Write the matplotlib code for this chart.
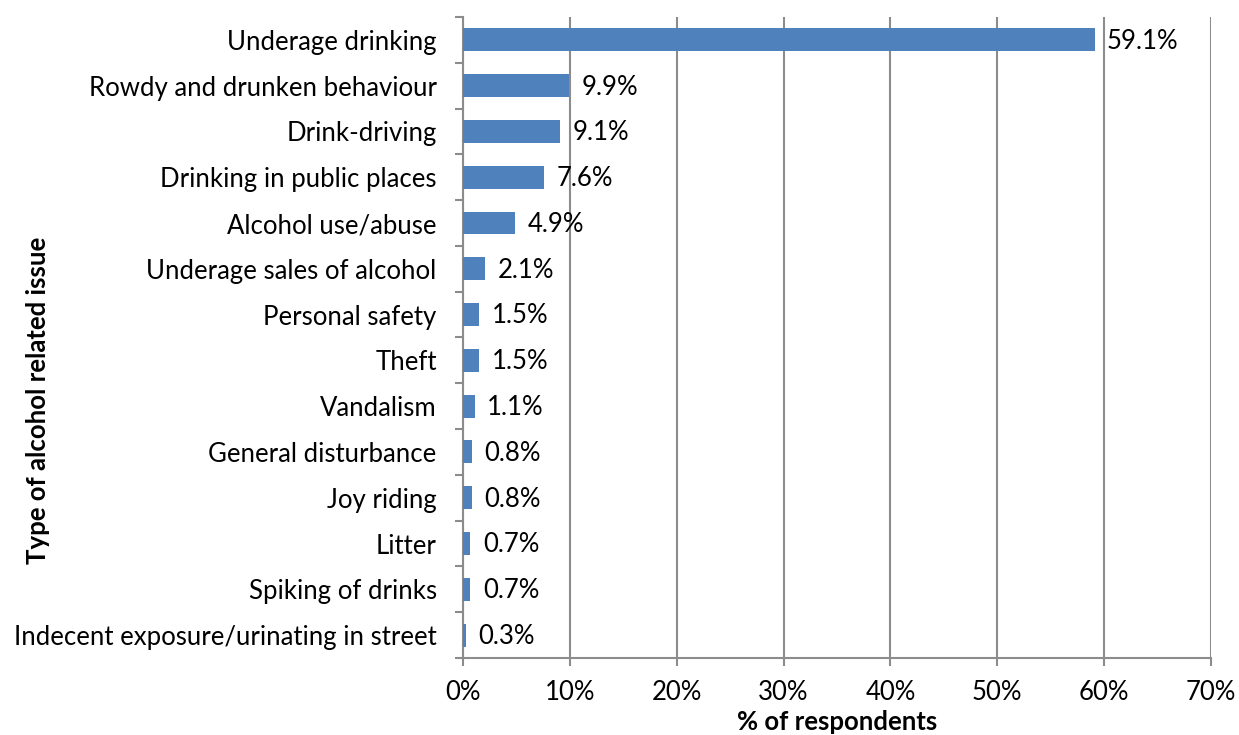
import numpy as np
import matplotlib
matplotlib.use("Agg")
import matplotlib.pyplot as plt
from matplotlib.ticker import FixedLocator

categories = [
    "Underage drinking",
    "Rowdy and drunken behaviour",
    "Drink-driving",
    "Drinking in public places",
    "Alcohol use/abuse",
    "Underage sales of alcohol",
    "Personal safety",
    "Theft",
    "Vandalism",
    "General disturbance",
    "Joy riding",
    "Litter",
    "Spiking of drinks",
    "Indecent exposure/urinating in street",
]
values = [59.1, 9.9, 9.1, 7.6, 4.9, 2.1, 1.5, 1.5, 1.1, 0.8, 0.8, 0.7, 0.7, 0.3]
xticks = [0, 10, 20, 30, 40, 50, 60, 70]

plt.rcParams["font.family"] = ["Lato", "DejaVu Sans"]
BAR = "#4f81bd"
GRID = "#8c8c8c"
FS = 18.5

fig = plt.figure(figsize=(12.39, 7.35), dpi=100)
ax = fig.add_axes([0.3737, 0.1048, 0.6037, 0.8721])

n = len(categories)
y = np.arange(n)
ax.barh(y, values, height=0.5, color=BAR, zorder=3)
ax.set_ylim(n - 0.5, -0.5)
ax.set_xlim(0, 70)

for yi, v in zip(y, values):
    ax.annotate(f"{v:.1f}%", (v, yi), xytext=(9, -1), textcoords="offset points",
                va="center", ha="left", fontsize=FS, zorder=4)

ax.set_yticks(y)
ax.set_yticklabels(categories, fontsize=FS)
ax.yaxis.set_minor_locator(FixedLocator(np.arange(-0.5, n, 1.0)))
ax.tick_params(axis="y", which="major", length=0, pad=19)
ax.tick_params(axis="y", which="minor", length=6, width=1.5, color=GRID)

ax.set_xticks(xticks)
ax.set_xticklabels([f"{t}%" for t in xticks], fontsize=FS)
ax.tick_params(axis="x", length=6, width=1.5, color=GRID, pad=10)
ax.xaxis.grid(True, color=GRID, linewidth=1.5, zorder=0)

for s in ["top", "right"]:
    ax.spines[s].set_visible(False)
for s in ["left", "bottom"]:
    ax.spines[s].set_color(GRID)
    ax.spines[s].set_linewidth(1.5)

ax.set_xlabel("% of respondents", fontsize=FS, fontweight="bold")
ax.xaxis.label.set_va("center")
ax.xaxis.set_label_coords(0.5, -0.100)
ax.set_ylabel("Type of alcohol related issue", fontsize=FS, fontweight="bold")
ax.yaxis.label.set_va("center")
ax.yaxis.set_label_coords(-0.568, 0.4025)

fig.savefig("out.png", dpi=100)
